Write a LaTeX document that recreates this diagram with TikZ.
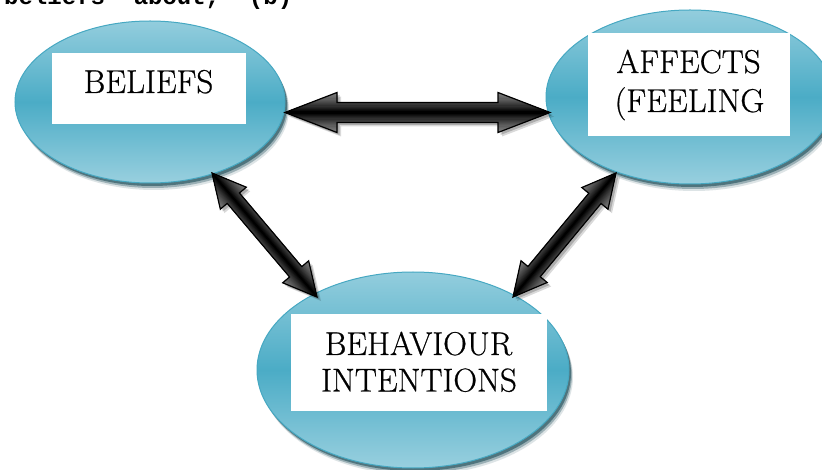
\documentclass[tikz,border=0pt]{standalone}
\usepackage{fontspec}
\newfontfamily\topmono{Liberation Mono}
\newfontfamily\lblfont[FakeBold=0.6]{Latin Modern Roman}
\usetikzlibrary{calc,shapes.geometric}
\definecolor{bluetop}{HTML}{93CDDD}
\definecolor{bluemid}{HTML}{4BACC6}
\definecolor{blueedge}{HTML}{46A8C2}
\definecolor{shadowteal}{HTML}{1F4E5A}
\definecolor{arrgray}{HTML}{7A7A7A}
\tikzset{
  bubble/.style={ellipse, inner sep=0pt, outer sep=0pt, draw=blueedge, line width=1pt,
    top color=bluetop, bottom color=bluetop!95!white, middle color=bluemid},
  bubshadow/.style={fill=shadowteal},
  whitebox/.style={rectangle, fill=white, inner sep=0pt, outer sep=0pt},
  lbl/.style={inner sep=0pt, outer sep=0pt, font=\lblfont\fontsize{33}{39}\selectfont},
  arrowline/.style={draw=black, line width=1.2pt, line join=miter},
}
% block double arrow between two named coordinates
% #1 from, #2 to, #3 shaft half width, #4 head half width, #5 head length
\newcommand\bapath[3]{(0,0) -- (#3,#2) -- (#3,#1) -- ({\balen-#3},#1) -- ({\balen-#3},#2) -- (\balen,0) -- ({\balen-#3},-#2) -- ({\balen-#3},-#1) -- (#3,-#1) -- (#3,-#2) -- cycle}
\newcommand\blockarrow[5]{%
  \pgfmathanglebetweenpoints{\pgfpointanchor{#1}{center}}{\pgfpointanchor{#2}{center}}%
  \let\baang\pgfmathresult
  \pgfpointdiff{\pgfpointanchor{#1}{center}}{\pgfpointanchor{#2}{center}}%
  \pgfgetlastxy{\badx}{\bady}%
  \pgfmathveclen{\badx}{\bady}\let\balen\pgfmathresult
  \begin{scope}[transform canvas={shift={($(#1)+(4,4)$)},rotate=\baang}]
    \fill[black, opacity=0.15] \bapath{#3}{#4}{#5};
  \end{scope}
  \begin{scope}[transform canvas={shift={($(#1)+(2.5,2.5)$)},rotate=\baang}]
    \fill[black, opacity=0.2] \bapath{#3}{#4}{#5};
  \end{scope}
  \begin{scope}[transform canvas={shift={(#1)},rotate=\baang}]
    \begin{scope}
      \clip \bapath{#3}{#4}{#5};
      \foreach \k in {0,...,16} {
        \pgfmathsetmacro\baw{2*#4*(1-\k/17)}
        \pgfmathsetmacro\bapc{100*(\k/16)^1.3}
        \draw[line width=\baw pt, color=black!\bapc!arrgray] (-5,0) -- ({\balen+5},0);
      }
    \end{scope}
    \draw[arrowline] \bapath{#3}{#4}{#5};
  \end{scope}
}
\begin{document}
\begin{tikzpicture}[x=1pt,y=-1pt]
\useasboundingbox (0,0) rectangle (822,470);
\fill[white] (0,0) rectangle (822,470);

% clipped line of text at the very top
\begin{scope}
  \clip (0,0) rectangle (822,470);
  \node[anchor=base west, inner sep=0pt, font={\topmono\bfseries\fontsize{24}{24}\selectfont}] (toptext) at (4,5) {beliefs\ \ about,\ \ (b)};
\end{scope}

% shadows of the bubbles
\foreach \dx/\dy/\op in {2/3/0.6, 3/5/0.35, 4/7/0.15} {
  \fill[bubshadow, opacity=\op] (150+\dx,102+\dy) ellipse [x radius=135pt, y radius=81pt];
  \fill[bubshadow, opacity=\op] (690+\dx,97+\dy) ellipse [x radius=144pt, y radius=87pt];
  \fill[bubshadow, opacity=\op] (413+\dx,370+\dy) ellipse [x radius=156pt, y radius=98pt];
}

% bubbles
\node[bubble, minimum width=270pt, minimum height=162pt] (bel) at (150,102) {};
\node[bubble, minimum width=288pt, minimum height=174pt] (aff) at (690,97) {};
\node[bubble, minimum width=312pt, minimum height=196pt] (beh) at (413,370) {};

% white text boxes
\node[whitebox, minimum width=194pt, minimum height=71pt] (belbox) at (149,88.5) {};
\node[whitebox, minimum width=202pt, minimum height=103pt] (affbox) at (689,84.5) {};
\node[whitebox, minimum width=256pt, minimum height=97pt] (behbox) at (419,362.5) {};

% labels
\node[lbl, anchor=base] (beltext) at (148.5,93) {BELIEFS};
\node[lbl, anchor=base] (afftexta) at (688.5,73) {AFFECTS};
\node[lbl, anchor=base] (afftextb) at (689.5,112) {(FEELING};
\node[lbl, anchor=base] (behtexta) at (418.5,355) {BEHAVIOUR};
\node[lbl, anchor=base] (behtextb) at (419,391.5) {INTENTIONS};

% connector end points
\coordinate (h1) at (285,112.5);
\coordinate (h2) at (550,112.5);
\coordinate (l1) at (212,173);
\coordinate (l2) at (317,297);
\coordinate (r1) at (616,173);
\coordinate (r2) at (513,297);

% block double arrows
\blockarrow{h1}{h2}{10}{20}{52}
\blockarrow{l1}{l2}{8}{17}{33}
\blockarrow{r1}{r2}{8}{17}{33}
\end{tikzpicture}
\end{document}
